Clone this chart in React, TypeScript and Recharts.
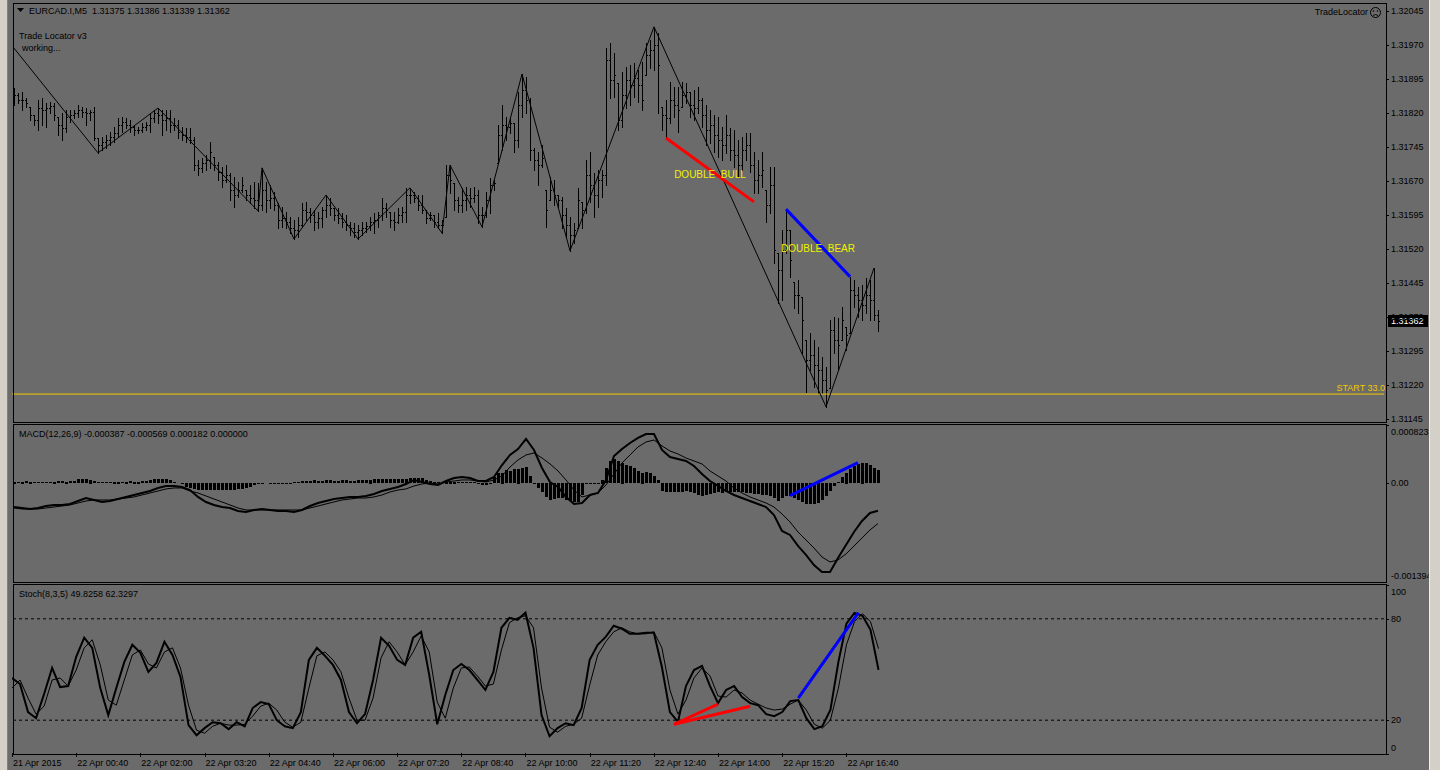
import React from 'react';
import { ComposedChart, Bar, Line, XAxis, YAxis, ReferenceLine, ReferenceDot } from 'recharts';

const BG = '#6b6b6b';
const FONT = '"Liberation Sans", Arial, sans-serif';
const YELLOW = '#f2f000';
const GOLD = '#f5c800';

// 5 minute bars, 21 Apr 23:20 -> 22 Apr 17:20
const highs = [
  1.31875,1.31864,1.31866,1.31853,1.31833,1.31816,1.31849,1.31853,1.31842,1.31844,
  1.31842,1.31811,1.3182,1.31827,1.31827,1.31827,1.31838,1.31833,1.31831,1.31827,
  1.31833,1.31765,1.31767,1.31772,1.31778,1.31789,1.31809,1.31811,1.31809,1.31805,
  1.31794,1.31789,1.31798,1.318,1.3182,1.31827,1.31831,1.31827,1.31827,1.31827,
  1.31809,1.31805,1.31789,1.31787,1.31787,1.31767,1.31716,1.31721,1.31727,1.31756,
  1.31723,1.31712,1.31701,1.31705,1.31688,1.31679,1.31668,1.31679,1.3165,1.31661,
  1.31668,1.31666,1.31699,1.31668,1.31661,1.31646,1.31622,1.31613,1.31602,1.31591,
  1.31584,1.31591,1.31622,1.31624,1.31611,1.31606,1.31602,1.31613,1.31639,1.31633,
  1.31611,1.31611,1.31599,1.31595,1.3158,1.31577,1.31573,1.3158,1.3158,1.31591,
  1.31599,1.31602,1.31633,1.31622,1.31602,1.31602,1.31611,1.31613,1.31655,1.31655,
  1.31646,1.31639,1.31639,1.31606,1.31602,1.31595,1.31599,1.31584,1.31705,1.31705,
  1.31666,1.31635,1.31655,1.31657,1.31655,1.31657,1.3165,1.31613,1.31646,1.31677,
  1.31672,1.31794,1.31838,1.31811,1.31809,1.31798,1.31866,1.31906,1.31899,1.31853,
  1.31743,1.31734,1.31749,1.3165,1.31679,1.31672,1.31639,1.31635,1.31611,1.31591,
  1.31577,1.31655,1.31624,1.31716,1.31734,1.31688,1.31694,1.31694,1.31963,1.31974,
  1.31952,1.31886,1.31911,1.31922,1.31926,1.3193,1.31915,1.31933,1.31974,1.31981,
  1.3201,1.31996,1.31833,1.31849,1.31888,1.31877,1.31877,1.31888,1.31886,1.31866,
  1.31871,1.31877,1.31853,1.31838,1.31827,1.31816,1.31811,1.31789,1.31816,1.31787,
  1.31783,1.3176,1.31767,1.31776,1.31776,1.31734,1.31716,1.31734,1.3165,1.31701,
  1.31701,1.31511,1.31562,1.31606,1.31562,1.31447,1.31452,1.31414,1.31319,1.31335,
  1.31319,1.31304,1.31282,1.3126,1.31363,1.3137,1.31368,1.31392,1.31348,1.31458,
  1.31452,1.31436,1.31441,1.31456,1.31452,1.31478,1.31386,
];
const lows = [
  1.31838,1.31842,1.31827,1.31833,1.31805,1.31794,1.31783,1.31794,1.31789,1.3182,
  1.31805,1.31772,1.3176,1.31778,1.318,1.31809,1.31811,1.31811,1.31794,1.31805,
  1.3176,1.31732,1.31738,1.31743,1.31749,1.31756,1.31767,1.31778,1.31787,1.31778,
  1.31772,1.31776,1.31778,1.31783,1.31778,1.318,1.31798,1.31772,1.31783,1.31778,
  1.31783,1.31765,1.3176,1.31756,1.31754,1.31694,1.31683,1.3169,1.31694,1.31699,
  1.31694,1.31672,1.31657,1.31668,1.31628,1.31613,1.31635,1.31646,1.31628,1.31622,
  1.31611,1.31604,1.31606,1.31602,1.31611,1.31606,1.31566,1.31569,1.31566,1.31555,
  1.31542,1.31547,1.31569,1.31584,1.3158,1.31562,1.31566,1.31569,1.31591,1.31595,
  1.31584,1.31577,1.31569,1.31562,1.31551,1.31547,1.31542,1.31551,1.31558,1.31562,
  1.31555,1.31569,1.31584,1.31591,1.31569,1.31562,1.31577,1.3158,1.3158,1.31622,
  1.31624,1.31606,1.31599,1.31577,1.31584,1.31569,1.31566,1.31555,1.31591,1.31644,
  1.31606,1.31602,1.31602,1.31606,1.31613,1.31624,1.31577,1.31569,1.31591,1.31599,
  1.3165,1.3171,1.31738,1.3176,1.31776,1.31734,1.31745,1.31811,1.3182,1.31716,
  1.31694,1.31661,1.31701,1.31569,1.31628,1.31617,1.31613,1.31566,1.31547,1.31516,
  1.31533,1.31566,1.31566,1.31599,1.31624,1.31591,1.31613,1.31635,1.31661,1.31853,
  1.31855,1.31783,1.31789,1.31831,1.31838,1.31855,1.31844,1.31827,1.31904,1.31919,
  1.31915,1.3182,1.31783,1.31767,1.31798,1.31811,1.31778,1.31833,1.31842,1.31811,
  1.31805,1.3182,1.31789,1.31749,1.31754,1.31734,1.31723,1.31716,1.31732,1.31716,
  1.31701,1.31679,1.31694,1.31716,1.3169,1.31644,1.31644,1.31657,1.3158,1.31599,
  1.31489,1.31401,1.31408,1.31511,1.31458,1.3139,1.31379,1.31291,1.31205,1.31253,
  1.31216,1.31202,1.31202,1.31172,1.31213,1.31291,1.31253,1.31319,1.31297,1.31335,
  1.31392,1.3137,1.31363,1.31379,1.31363,1.31363,1.31339,
];
const closes = [
  1.3186,1.31849,1.31849,1.31842,1.31816,1.31805,1.31831,1.31827,1.31831,1.31835,
  1.31816,1.31794,1.31787,1.31811,1.31816,1.3182,1.31827,1.31822,1.3182,1.31822,
  1.31765,1.31749,1.31756,1.3176,1.31767,1.31776,1.31794,1.318,1.31794,1.31789,
  1.31783,1.31783,1.31789,1.31794,1.31809,1.3182,1.31816,1.31805,1.31809,1.31794,
  1.31794,1.31778,1.31772,1.31767,1.3176,1.31705,1.31699,1.3171,1.31716,1.31734,
  1.31705,1.3169,1.31672,1.31683,1.3165,1.31639,1.3165,1.31661,1.31639,1.31633,
  1.31628,1.31617,1.3165,1.31628,1.31633,1.31617,1.31584,1.31588,1.3158,1.31566,
  1.31562,1.31573,1.31606,1.31602,1.31595,1.3158,1.31588,1.31606,1.31617,1.31611,
  1.31595,1.31588,1.3158,1.31573,1.31566,1.31558,1.31562,1.31566,1.31571,1.3158,
  1.31584,1.31595,1.31611,1.31606,1.31584,1.3158,1.31595,1.31602,1.31639,1.31639,
  1.31633,1.31617,1.31606,1.31588,1.31595,1.3158,1.31573,1.31573,1.31683,1.31672,
  1.31628,1.31617,1.31628,1.31639,1.31633,1.31639,1.31595,1.31595,1.31628,1.31661,
  1.31666,1.31772,1.31794,1.31789,1.31798,1.3176,1.31838,1.31871,1.31849,1.31738,
  1.31716,1.31705,1.31721,1.31606,1.3165,1.31639,1.31628,1.31595,1.31573,1.31551,
  1.31562,1.31628,1.31606,1.31683,1.31661,1.31639,1.31672,1.31683,1.31937,1.31893,
  1.31904,1.31805,1.3186,1.31893,1.31882,1.31897,1.31882,1.31849,1.31948,1.31959,
  1.3197,1.31926,1.31816,1.31809,1.31849,1.31838,1.31827,1.3186,1.31866,1.31838,
  1.31831,1.31849,1.31816,1.31783,1.31794,1.31772,1.3176,1.31749,1.31772,1.31738,
  1.31727,1.31705,1.31738,1.31749,1.31705,1.31672,1.31683,1.31694,1.31617,1.31661,
  1.31518,1.31474,1.31518,1.31562,1.31496,1.31419,1.31419,1.31363,1.31275,1.31286,
  1.31264,1.31253,1.31231,1.31209,1.31341,1.31319,1.31308,1.31363,1.3133,1.3143,
  1.31419,1.31408,1.31397,1.31419,1.31408,1.31375,1.31362,
];

const zigzagIdx = [0, 21, 36, 61, 62, 70, 78, 86, 99, 107, 109, 117, 127, 139, 160, 203, 215];
const zigzagPrice = [1.31963, 1.31732, 1.31831, 1.31604, 1.31699, 1.31542, 1.31639, 1.31542, 1.31655,
  1.31555, 1.31705, 1.31569, 1.31906, 1.31516, 1.3201, 1.31172, 1.31478];

// divergence segments: [bar index, value]
const priceBull = [[163, 1.31765], [185, 1.31624]];
const priceBear = [[193, 1.31608], [209, 1.31459]];
const macdBear = [[194, -0.000175], [211, 0.000291]];
const stochBullA = [[165, 17.6], [176, 29.5]];
const stochBullB = [[165, 17.6], [184, 28.3]];
const stochBear = [[196, 33.1], [211, 83.6]];

// MACD in millionths; lines sampled every 2nd bar, histogram every bar
const macdMain = [
  -335,-349,-363,-349,-321,-306,-306,-292,-250,-208,
  -236,-264,-250,-222,-193,-165,-137,-109,-66,-38,
  -38,-52,-95,-193,-264,-306,-335,-349,-391,-405,
  -377,-363,-377,-391,-391,-405,-377,-321,-278,-250,
  -222,-208,-193,-193,-179,-151,-109,-80,-52,-10,
  47,18,-10,-24,32,75,89,75,32,32,
  89,258,400,484,626,470,216,18,-52,-193,
  -292,-278,-165,-137,47,385,484,569,640,696,
  696,470,371,343,315,244,131,32,-38,-109,
  -165,-208,-250,-292,-335,-448,-674,-730,-885,-1012,
  -1154,-1252,-1252,-1055,-871,-688,-532,-419,-387,
];
const macdSignal = [
  -349,-363,-363,-363,-349,-335,-321,-306,-278,-250,
  -236,-236,-236,-222,-208,-193,-165,-137,-109,-80,
  -66,-66,-109,-137,-179,-222,-264,-306,-349,-377,
  -377,-377,-377,-377,-377,-377,-377,-349,-321,-292,
  -264,-236,-222,-208,-208,-193,-165,-123,-95,-80,
  -38,-10,4,-10,18,32,47,47,32,18,
  47,103,230,329,400,428,357,273,174,47,
  -95,-193,-165,-137,-24,131,287,400,513,583,
  611,527,456,414,357,315,273,174,103,32,
  -66,-137,-193,-236,-278,-335,-433,-546,-688,-801,
  -914,-1041,-1111,-1083,-998,-885,-772,-659,-569,
];
const macdHist = [
  25,20,25,30,25,20,20,15,15,20,25,30,30,25,30,35,
  55,60,60,50,35,
  20,15,15,20,25,25,20,25,30,25,25,30,30,40,
  55,60,60,55,45,20,
  0,
  -20,-50,-75,-90,-95,-100,-100,-100,-100,-95,-100,-100,-95,-95,-90,-85,-75,-55,
  -25,-10,-5,0,5,10,10,5,5,10,15,20,
  30,35,35,40,35,35,40,40,35,35,40,40,35,35,40,45,45,
  50,55,55,55,55,60,55,55,60,65,
  70,75,75,70,
  45,30,25,20,20,25,25,25,20,15,20,20,15,
  -15,-35,-35,-20,
  90,140,150,185,175,195,205,215,230,100,10,
  -65,-130,-200,-235,-220,-210,-210,-235,-260,-265,-265,-170,-20,-15,-15,5,
  50,215,315,345,310,290,260,240,215,170,150,160,145,100,40,
  -120,-125,-125,-125,-125,-125,-120,-125,-140,-170,-185,-165,-155,-145,-130,-135,-130,-125,-130,-125,-130,-135,-140,-150,-160,
  -165,-175,-185,-215,-260,-215,-180,-180,-205,-240,-265,-290,-300,-295,-280,-240,-180,-110,-40,20,85,150,200,240,270,290,280,255,215,182,
];

// Stochastic, sampled every 2nd bar
const stochMain = [
  45.0,41.4,24.8,21.2,35.5,50.9,39.6,40.2,57.5,68.8,
  62.8,39.0,23.0,39.0,54.5,64.6,59.9,48.6,53.9,66.4,
  58.6,45.6,17.1,11.1,15.3,18.8,18.2,14.7,18.8,16.4,
  27.2,30.7,29.5,20.0,16.4,15.3,24.8,55.7,62.8,58.1,
  52.7,43.8,24.8,18.2,23.6,43.8,68.8,64.0,55.7,52.7,
  68.8,72.3,46.8,17.6,34.9,49.7,53.3,49.7,43.8,37.9,
  48.6,74.7,80.6,79.4,83.6,62.8,23.0,10.5,15.3,18.2,
  17.1,27.2,55.7,64.6,69.3,75.9,74.1,71.1,71.1,71.7,
  71.7,51.5,24.8,19.0,40.2,49.7,52.1,40.2,30.1,37.9,
  40.2,33.7,30.1,28.9,23.6,22.4,24.8,31.3,31.9,21.2,
  14.7,16.4,26.0,54.5,77.1,83.5,81.8,73.5,49.8,
];
const stochSignal = [
  39.0,43.8,33.1,23.6,28.3,43.8,45.0,40.2,49.7,62.8,
  67.6,52.7,31.9,28.9,43.8,58.6,61.6,53.3,50.9,60.4,
  62.8,50.9,28.9,14.1,12.3,16.4,18.2,17.1,17.1,17.6,
  22.4,28.3,30.1,26.0,18.8,15.9,18.8,39.0,58.1,60.4,
  55.7,48.6,33.1,20.0,20.0,33.1,56.9,66.4,60.4,52.7,
  60.4,69.9,60.4,30.7,21.2,39.0,50.9,51.5,46.2,40.2,
  41.4,61.6,77.7,80.6,81.8,74.7,39.0,15.9,12.9,16.4,
  17.6,21.2,40.8,58.6,66.4,72.3,74.7,72.3,71.1,71.1,
  72.3,62.8,37.9,23.6,31.9,45.0,50.9,46.2,34.3,33.7,
  37.9,36.1,31.9,29.5,27.2,26.0,26.6,29.5,31.9,26.0,
  17.6,15.3,20.0,39.0,64.6,78.3,83.0,78.3,62.3,
];

const priceTicks = [1.32045, 1.3197, 1.31895, 1.3182, 1.31745, 1.3167, 1.31595, 1.3152, 1.31445, 1.3137, 1.31295, 1.3122, 1.31145];
const macdTicks = [-0.001394, 0, 0.000823];
const stochTicks = [0, 20, 80, 100];
const timeLabels = ['21 Apr 2015', '22 Apr 00:40', '22 Apr 02:00', '22 Apr 03:20', '22 Apr 04:40', '22 Apr 06:00', '22 Apr 07:20',
  '22 Apr 08:40', '22 Apr 10:00', '22 Apr 11:20', '22 Apr 12:40', '22 Apr 14:00', '22 Apr 15:20', '22 Apr 16:40'];
const BARS_PER_LABEL = 16;

const SLOTS = 343;
const PLOT_W = 1372;
const AXIS_W = 56;
const CHART_W = PLOT_W + AXIS_W;

const rows = Array.from({ length: SLOTS }, (_, i) => {
  const row: any = { i };
  if (i < highs.length) {
    row.high = highs[i];
    row.low = lows[i];
    row.close = closes[i];
    row.open = i === 0 ? closes[0] : closes[i - 1];
    row.hl = [lows[i], highs[i]];
    row.hist = macdHist[i] * 1e-6;
  }
  if (i % 2 === 0 && i / 2 < macdMain.length) {
    row.macd = macdMain[i / 2] * 1e-6;
    row.signal = macdSignal[i / 2] * 1e-6;
    row.k = stochMain[i / 2];
    row.d = stochSignal[i / 2];
  }
  return row;
});
zigzagIdx.forEach((idx, n) => { rows[idx].zig = zigzagPrice[n]; });
const addSeg = (seg: number[][], key: string) => seg.forEach(([idx, v]) => { rows[idx][key] = v; });
addSeg(priceBull, 'pBull');
addSeg(priceBear, 'pBear');
addSeg(macdBear, 'mBear');
addSeg(stochBullA, 'sBullA');
addSeg(stochBullB, 'sBullB');
addSeg(stochBear, 'sBear');

const txt = { fontFamily: FONT, fontSize: 9, fill: '#000' };

const OhlcShape = (props: any) => {
  const { x, y, width, height, payload } = props;
  if (!payload || payload.high == null) return null;
  const top = Math.min(y, y + height);
  const bot = Math.max(y, y + height);
  const span = payload.high - payload.low;
  const py = (v: number) => {
    const c = Math.min(payload.high, Math.max(payload.low, v));
    return Math.round(span > 0 ? top + ((payload.high - c) / span) * (bot - top) : top) + 0.5;
  };
  const cx = Math.floor(x + width / 2) + 0.5;
  return (
    <g stroke="#000" strokeWidth={1} shapeRendering="crispEdges">
      <line x1={cx} x2={cx} y1={Math.round(top)} y2={Math.round(bot) + 1} />
      <line x1={cx - 1.5} x2={cx} y1={py(payload.open)} y2={py(payload.open)} />
      <line x1={cx} x2={cx + 1.5} y1={py(payload.close)} y2={py(payload.close)} />
    </g>
  );
};

const HistShape = (props: any) => {
  const { x, y, height } = props;
  if (!height) return null;
  const top = Math.round(Math.min(y, y + height));
  const h = Math.max(1, Math.round(Math.abs(height)));
  return <rect x={Math.round(x)} y={top} width={3} height={h} fill="#000" shapeRendering="crispEdges" />;
};

const makeYTick = (fmt: (v: number) => string, shift: (v: number) => number) => (props: any) => {
  const { x, y, payload } = props;
  return (
    <g>
      <line x1={x + 2} x2={x + 5} y1={y + 0.5} y2={y + 0.5} stroke="#000" shapeRendering="crispEdges" />
      <text x={x + 7} y={y + shift(payload.value) + 3} {...txt}>{fmt(payload.value)}</text>
    </g>
  );
};

const PriceTick = makeYTick((v) => v.toFixed(5), () => 0);
const MacdTick = makeYTick((v) => (v === 0 ? '0.00' : v.toFixed(6)), (v) => (v > 0 ? 7 : v < 0 ? -6 : 0));
const StochTick = makeYTick((v) => String(v), (v) => (v === 100 ? 7 : v === 0 ? -6 : 0));

const TimeTick = (props: any) => {
  const { x, y, payload } = props;
  const idx = payload.value;
  const n = idx / BARS_PER_LABEL;
  if (idx % BARS_PER_LABEL !== 0 || n >= timeLabels.length) return null;
  return (
    <g>
      <line x1={x + 0.5} x2={x + 0.5} y1={y - 1} y2={y + 3} stroke="#000" shapeRendering="crispEdges" />
      <text x={x + 1} y={y + 12} {...txt}>{timeLabels[n]}</text>
    </g>
  );
};

const segLine = (key: string, color: string) => (
  <Line dataKey={key} stroke={color} strokeWidth={3} dot={false} activeDot={false} connectNulls isAnimationActive={false} />
);

const tagLabel = (text: string) => ({
  content: (p: any) => (
    <text x={p.viewBox.x} y={p.viewBox.y + 4} textAnchor="middle" fontFamily={FONT} fontSize={10} fill={YELLOW} style={{ whiteSpace: 'pre' }}>
      {text}
    </text>
  ),
});

const PriceChart = () => (
  <ComposedChart width={CHART_W} height={418} data={rows} margin={{ top: 0, right: 0, bottom: 0, left: 0 }}>
    <XAxis dataKey="i" type="category" hide />
    <YAxis orientation="right" width={AXIS_W} type="number" domain={[1.311384, 1.320604]} allowDataOverflow
      ticks={priceTicks} interval={0} axisLine={false} tickLine={false} tickSize={0} tickMargin={0} tick={PriceTick} />
    <ReferenceLine y={1.312} stroke={GOLD} strokeWidth={1}
      label={{ content: (p: any) => (
        <text x={p.viewBox.x + p.viewBox.width + 1} y={p.viewBox.y - 3} textAnchor="end" fontFamily={FONT} fontSize={9} fill={GOLD}>START 33.0</text>
      ) }} />
    <Bar dataKey="hl" barSize={2} shape={OhlcShape} isAnimationActive={false} />
    <Line dataKey="zig" stroke="#000" strokeWidth={1} dot={false} activeDot={false} connectNulls isAnimationActive={false} />
    {segLine('pBull', '#ff0000')}
    {segLine('pBear', '#0000ff')}
    <ReferenceDot x={174} y={1.31685} r={0} fill="none" stroke="none" label={tagLabel('DOUBLE  BULL')} />
    <ReferenceDot x={201} y={1.31522} r={0} fill="none" stroke="none" label={tagLabel('DOUBLE  BEAR')} />
    <ReferenceLine y={closes[closes.length - 1]} stroke="none"
      label={{ content: (p: any) => {
        const bx = p.viewBox.x + p.viewBox.width + 4;
        const by = Math.round(p.viewBox.y);
        return (
          <g>
            <rect x={bx} y={by - 6} width={40} height={12} fill="#000" />
            <text x={bx + 3} y={by + 3} fontFamily={FONT} fontSize={9} fill="#fff">{closes[closes.length - 1].toFixed(5)}</text>
          </g>
        );
      } }} />
  </ComposedChart>
);

const MacdChart = () => (
  <ComposedChart width={CHART_W} height={157} data={rows} margin={{ top: 0, right: 0, bottom: 0, left: 0 }}>
    <XAxis dataKey="i" type="category" hide />
    <YAxis orientation="right" width={AXIS_W} type="number" domain={[-0.001394, 0.000823]} allowDataOverflow
      ticks={macdTicks} interval={0} axisLine={false} tickLine={false} tickSize={0} tickMargin={0} tick={MacdTick} />
    <Bar dataKey="hist" barSize={3} shape={HistShape} isAnimationActive={false} />
    <Line dataKey="signal" stroke="#000" strokeWidth={1} dot={false} activeDot={false} connectNulls isAnimationActive={false} />
    <Line dataKey="macd" stroke="#000" strokeWidth={2} dot={false} activeDot={false} connectNulls isAnimationActive={false} />
    {segLine('mBear', '#0000ff')}
  </ComposedChart>
);

const StochChart = () => (
  <ComposedChart width={CHART_W} height={185} data={rows} margin={{ top: 0, right: 0, bottom: 0, left: 0 }}>
    <XAxis dataKey="i" type="category" height={16} interval={0} axisLine={false} tickLine={false} tickSize={0} tickMargin={0} tick={TimeTick} />
    <YAxis orientation="right" width={AXIS_W} type="number" domain={[0, 100]} allowDataOverflow
      ticks={stochTicks} interval={0} axisLine={false} tickLine={false} tickSize={0} tickMargin={0} tick={StochTick} />
    <ReferenceLine y={80} stroke="#000" strokeDasharray="3 3" />
    <ReferenceLine y={20} stroke="#000" strokeDasharray="3 3" />
    <Line dataKey="d" stroke="#000" strokeWidth={1} dot={false} activeDot={false} connectNulls isAnimationActive={false} />
    <Line dataKey="k" stroke="#000" strokeWidth={2} dot={false} activeDot={false} connectNulls isAnimationActive={false} />
    {segLine('sBullA', '#ff0000')}
    {segLine('sBullB', '#ff0000')}
    {segLine('sBear', '#0000ff')}
  </ComposedChart>
);

const label = (left: number, top: number, text: string, extra: any = {}) => (
  <div style={{ position: 'absolute', left, top, fontSize: 9, lineHeight: '11px', color: '#000', whiteSpace: 'pre', ...extra }}>{text}</div>
);

const frame = (top: number, height: number) => (
  <div style={{ position: 'absolute', left: 13, top, width: 1374, height, boxSizing: 'border-box', border: '1px solid #000', pointerEvents: 'none' }} />
);

export default function App() {
  return (
    <div style={{ position: 'absolute', left: 0, top: 0, width: 1440, height: 770, background: BG, overflow: 'hidden', fontFamily: FONT }}>
      <div style={{ position: 'absolute', left: 0, top: 0, width: 7, height: 770, background: '#d4d0c8', borderRight: '1px solid #808080' }} />
      <div style={{ position: 'absolute', left: 12, top: 4 }}><PriceChart /></div>
      <div style={{ position: 'absolute', left: 12, top: 425 }}><MacdChart /></div>
      <div style={{ position: 'absolute', left: 12, top: 585 }}><StochChart /></div>
      {frame(3, 420)}
      {frame(424, 159)}
      {frame(584, 171)}
      <svg style={{ position: 'absolute', left: 17, top: 8 }} width={8} height={6}>
        <polygon points="0,0 7,0 3.5,4" fill="#000" />
      </svg>
      {label(29, 6, 'EURCAD.I,M5  1.31375 1.31386 1.31339 1.31362')}
      {label(19, 31, 'Trade Locator v3')}
      {label(22, 43, 'working...')}
      {label(0, 7, 'TradeLocator', { left: 'auto', right: 72 })}
      <svg style={{ position: 'absolute', left: 1369, top: 6 }} width={13} height={13}>
        <circle cx={6.5} cy={6.5} r={5} fill="none" stroke="#000" strokeWidth={1} />
        <circle cx={4.5} cy={5} r={0.8} fill="#000" />
        <circle cx={8.5} cy={5} r={0.8} fill="#000" />
        <path d="M4 9.5 Q6.5 7.5 9 9.5" fill="none" stroke="#000" strokeWidth={0.9} />
      </svg>
      {label(19, 429, 'MACD(12,26,9) -0.000387 -0.000569 0.000182 0.000000')}
      {label(19, 589, 'Stoch(8,3,5) 49.8258 62.3297')}
      <div style={{ position: 'absolute', left: 1429, top: 0, width: 11, height: 770, background: '#d4d0c8', borderLeft: '1px solid #f0f0f0', boxSizing: 'border-box' }} />
    </div>
  );
}
